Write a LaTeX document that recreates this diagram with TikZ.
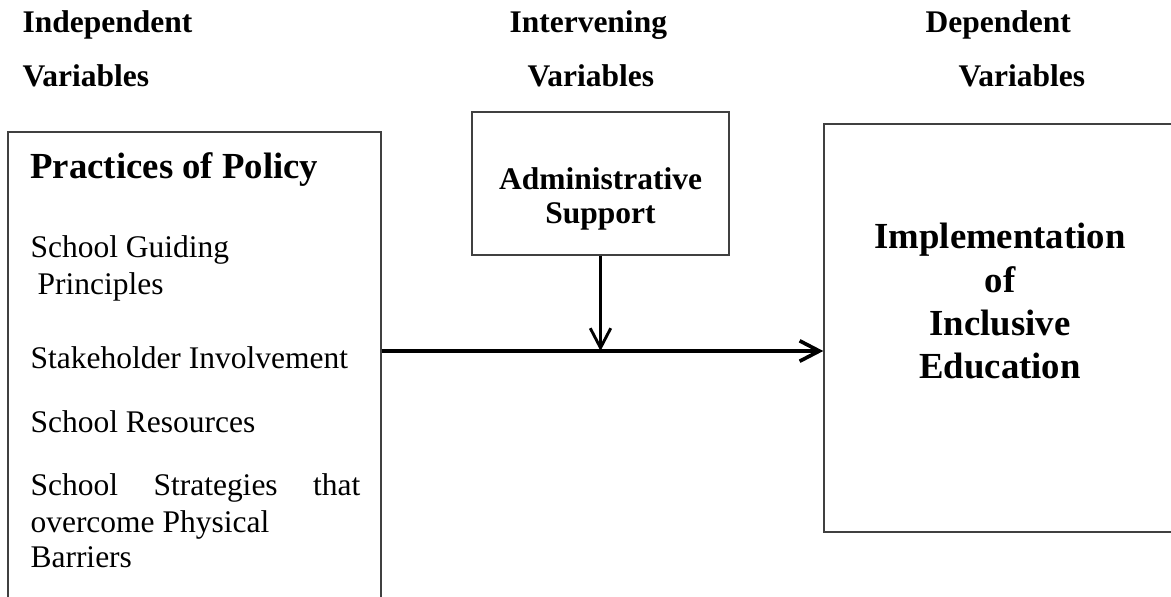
\documentclass[tikz,border=0pt]{standalone}
\usepackage{fontspec}
\setmainfont{Liberation Serif}
\usetikzlibrary{arrows.meta}

\tikzset{
  box/.style={draw=black!75, line width=0.55pt, rectangle, inner sep=0pt},
  hdtext/.style={anchor=base west, inner sep=0pt, font=\bfseries\fontsize{12}{14}\selectfont},
  itemtext/.style={anchor=base west, inner sep=0pt, font=\fontsize{12}{14}\selectfont},
  midtext/.style={anchor=base, inner sep=0pt, font=\bfseries\fontsize{12}{14}\selectfont},
  bigtitle/.style={anchor=base, inner sep=0pt, font=\bfseries\fontsize{14}{16}\selectfont},
  flowarrow/.style={-{Straight Barb[length=7.5pt,width=7.8pt]}, line width=1.4pt},
}

\begin{document}
\begin{tikzpicture}[x=0.381pt,y=-0.381pt]
  \clip (0,0) rectangle (1171,596);
  % headings
  \node[hdtext] (indep) at (22,32) {Independent};
  \node[hdtext] (indepvar) at (22,86) {Variables};
  \node[hdtext] (interv) at (509,32) {Intervening};
  \node[hdtext] (intervvar) at (527,86) {Variables};
  \node[hdtext] (dep) at (925,32) {Dependent};
  \node[hdtext] (depvar) at (958,86) {Variables};

  % boxes
  \node[box, minimum width={373*0.381pt}, minimum height={508*0.381pt}] (policy) at (194.5,386) {};
  \node[box, minimum width={257*0.381pt}, minimum height={143*0.381pt}] (admin) at (600.5,183.5) {};
  \node[box, minimum width={354*0.381pt}, minimum height={408*0.381pt}] (impl) at (1001,328) {};

  % left box
  \node[bigtitle, anchor=base west] (poltitle) at (30,178) {Practices of Policy};
  \node[itemtext] (guideA) at (30,257) {School Guiding};
  \node[itemtext] (guideB) at (37,294) {Principles};
  \node[itemtext] (stake) at (30,368) {Stakeholder Involvement};
  \node[itemtext] (resources) at (30,432) {School Resources};
  \node[itemtext] (stratA) at (30,495) {\makebox[125.7pt][s]{School Strategies that}};
  \node[itemtext] (stratB) at (30,532) {overcome Physical};
  \node[itemtext] (stratC) at (30,567) {Barriers};

  % middle box
  \node[midtext] (adminA) at (600.5,189) {Administrative};
  \node[midtext] (adminB) at (600.5,223) {Support};

  % right box
  \node[bigtitle] (implA) at (1000,248) {Implementation};
  \node[bigtitle] (implB) at (1000,292) {of};
  \node[bigtitle] (implC) at (1000,335) {Inclusive};
  \node[bigtitle] (implD) at (1000,378) {Education};

  % connectors
  \coordinate (flow) at (0,351);
  \draw[flowarrow] (policy.east |- flow) -- (impl.west |- flow);
  \draw[flowarrow, line width=1.1pt] (admin.south) -- (admin.south |- flow);
\end{tikzpicture}
\end{document}
